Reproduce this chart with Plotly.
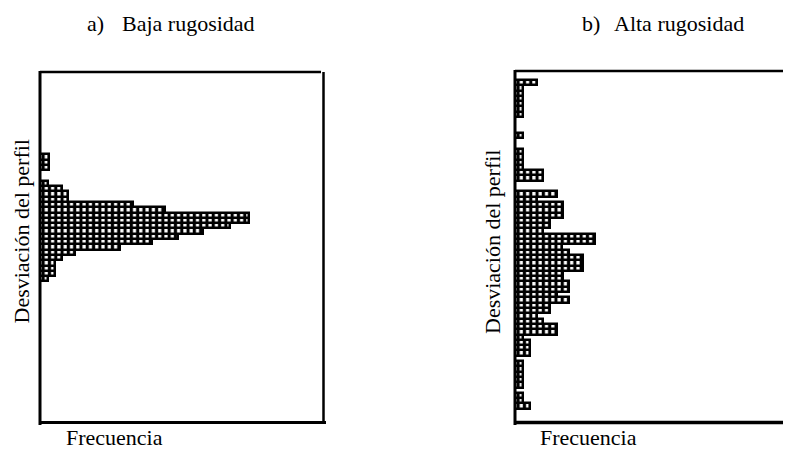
import plotly.graph_objects as go

W, H = 791, 449
OFF = 8  # page body margin offset of the rendered figure
FW, FH = W - OFF, H - OFF

# bin index (bottom -> top) of the profile deviation
bins = list(range(66))

# Panel a: low roughness, frequency per bin (bottom -> top)
freq_a = [0] * 27 + [1.3, 2.4, 2.4, 2.4, 3.5, 5.6, 12.7, 17.8, 21.9, 25.9, 30.2,
                     33.2, 33.2, 19.8, 14.8, 4.4, 4.4, 3.5, 1.3, 0, 0, 1.4, 1.4, 1.4] + [0] * 15

# Panel b: high roughness, frequency per bin (bottom -> top)
freq_b = [0, 0, 0, 2.4, 1.3, 1.3, 0, 1.3, 1.3, 1.3, 1.3, 1.3, 0, 2.4, 2.4, 2.4,
          1.3, 6.7, 6.7, 4.4, 3.5, 5.6, 5.6, 8.6, 6.7, 8.6, 8.6, 7.6, 7.6, 10.8,
          10.8, 10.8, 8.6, 7.5, 12.7, 12.7, 4.4, 5.6, 5.6, 7.6, 7.6, 7.6, 3.5, 6.7,
          0, 0, 4.4, 4.4, 1.3, 1.3, 1.3, 1.3, 0, 0, 1.3, 0, 0, 0, 1.3, 1.3, 1.3,
          1.3, 1.3, 1.3, 3.5, 0]

titles = ["a)", "Baja rugosidad", "b)", "Alta rugosidad"]
xlabel = "Frecuencia"
ylabel = "Desviación del perfil"

def px(x):
    return (x - OFF) / FW

def py(y):
    return 1 - (y - OFF) / FH

pattern = dict(shape="|", size=6.3, solidity=0.5, fgcolor="black",
               bgcolor="white", fillmode="replace")

fig = go.Figure()
for f, xa, ya in [(freq_a, "x", "y"), (freq_b, "x2", "y2")]:
    fig.add_trace(go.Bar(x=f, y=bins, orientation="h", xaxis=xa, yaxis=ya,
                         marker=dict(color="white", pattern=pattern,
                                     line=dict(color="black", width=2.5)),
                         width=1, showlegend=False, hoverinfo="skip"))

ydom = [py(422), py(72)]
ax_common = dict(showgrid=False, zeroline=False, showticklabels=False,
                 ticks="", showline=False, fixedrange=True)
fig.update_layout(
    width=FW, height=FH, margin=dict(l=0, r=0, t=0, b=0),
    paper_bgcolor="white", plot_bgcolor="white", bargap=0,
    xaxis=dict(domain=[px(40), px(323)], range=[0, 283 / 6.3], anchor="y", **ax_common),
    yaxis=dict(domain=ydom, range=[0, 66], anchor="x", **ax_common),
    xaxis2=dict(domain=[px(515), 1.0], range=[0, 276 / 6.3], anchor="y2", **ax_common),
    yaxis2=dict(domain=ydom, range=[0, 66], anchor="x2", **ax_common),
)

def line(x0, y0, x1, y1, w):
    fig.add_shape(type="line", xref="paper", yref="paper",
                  x0=px(x0), y0=py(y0), x1=px(x1), y1=py(y1),
                  line=dict(color="black", width=w), layer="above")

# panel a frame
line(40, 71, 40, 425, 3)
line(39, 422.5, 326, 422.5, 3)
line(40, 72, 321, 72, 2.5)
line(323.5, 72, 323.5, 424, 2.5)
# panel b frame
line(515, 70, 515, 425, 3)
line(514, 422.5, 791, 422.5, 3.5)
line(515, 71, 791, 71, 2.5)

font = dict(family="Liberation Serif", size=22, color="black")

def text(t, x, y, xanchor="left", angle=0):
    fig.add_annotation(text=t, xref="paper", yref="paper", x=px(x), y=py(y),
                       xanchor=xanchor, yanchor="middle", showarrow=False,
                       font=font, textangle=angle, borderpad=0)

text(titles[0], 86, 24)
text(titles[1], 120.7, 24)
text(titles[2], 581, 24)
text(titles[3], 613, 24)
text(xlabel, 65, 437.5)
text(xlabel, 539, 437.5)
text(ylabel, 20.5, 231, xanchor="center", angle=-90)
text(ylabel, 492, 242, xanchor="center", angle=-90)

fig.write_html("out.html")
